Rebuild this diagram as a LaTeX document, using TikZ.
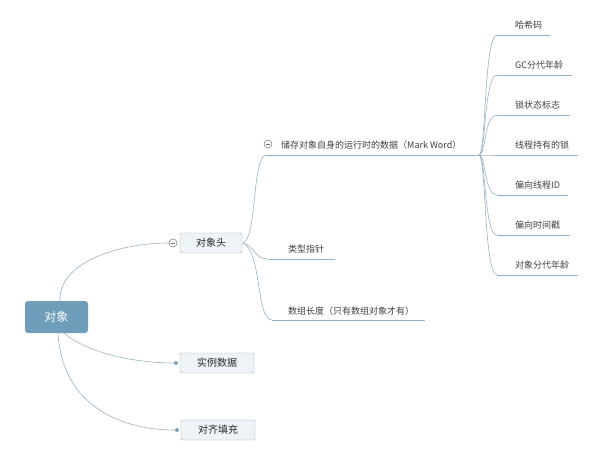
\documentclass[tikz,border=0pt]{standalone}
\usepackage{fontspec}
\newfontfamily\cjk{Noto Sans CJK SC}
\definecolor{rootc}{HTML}{6E9EBA}
\definecolor{boxf}{HTML}{EEF3F7}
\definecolor{boxd}{HTML}{9DB2BF}
\definecolor{linec}{HTML}{9AB3C2}
\definecolor{ulc}{HTML}{8DB3C6}
\definecolor{dotcol}{HTML}{7FA1B8}
\begin{document}
\begin{tikzpicture}[x=1pt,y=-1pt,
  font=\cjk\fontsize{9}{11}\selectfont,
  conn/.style={draw=linec, line width=0.6pt},
  ul/.style={draw=ulc, line width=0.7pt},
  rootbox/.style={rounded corners=3pt, fill=rootc, text=white, minimum width=63pt, minimum height=32pt, inner sep=0pt, font=\cjk\fontsize{12}{14}\selectfont},
  subbox/.style={rounded corners=1.5pt, draw=boxd, fill=boxf, minimum height=20pt, inner sep=0pt, font=\cjk\fontsize{10}{12}\selectfont, text=black!85},
  lbl/.style={anchor=west, inner sep=0pt, text=black!75},
  dotn/.style={circle, fill=dotcol, inner sep=0pt, minimum size=4pt},
  fold/.style={circle, draw=black!55, line width=0.5pt, inner sep=0pt, minimum size=8pt}]
\useasboundingbox (0,0) rectangle (606,458);
\fill[white] (0,0) rectangle (606,458);

% root and first level
\node[rootbox] (root) at (56.5,317) {对象};
\node[subbox, minimum width=62pt] (head) at (211,243) {对象头};
\node[subbox, minimum width=74pt] (inst) at (217,363) {实例数据};
\node[subbox, minimum width=74pt] (pad) at (218,430) {对齐填充};
\node[fold] (f1) at (173,243) {};
\draw[black!55, line width=0.5pt] ([xshift=1.8pt]f1.west) -- ([xshift=-1.8pt]f1.east);
\node[dotn] (d2) at (176,363) {};
\node[dotn] (d3) at (177,430) {};

\coordinate (rtop) at (60,301);
\coordinate (rb1) at (64,333);
\coordinate (rb2) at (58,333);
\draw[conn] (rtop) .. controls (58,262) and (120,243) .. (f1.west);
\draw[conn] (rb1) .. controls (90,355) and (140,363) .. (d2);
\draw[conn] (rb2) .. controls (62,405) and (120,430) .. (d3);

% second level
\node[fold] (f2) at (268,144) {};
\draw[black!55, line width=0.5pt] ([xshift=1.8pt]f2.west) -- ([xshift=-1.8pt]f2.east);
\node[lbl] (mw) at (281,145) {储存对象自身的运行时的数据（Mark Word）};
\coordinate (mwa) at (266,155);
\coordinate (mwb) at (479,155);
\draw[ul] (mwa) -- (mwb);

\node[lbl] (tp) at (288,249) {类型指针};
\coordinate (tpa) at (268,259);
\coordinate (tpb) at (335,259);
\draw[ul] (tpa) -- (tpb);

\node[lbl] (al) at (288,311) {数组长度（只有数组对象才有）};
\coordinate (ala) at (272,320);
\coordinate (alb) at (425,320);
\draw[ul] (ala) -- (alb);

\coordinate (hr) at (243,243);
\draw[conn] (hr) .. controls (257,238) and (252,157) .. (mwa);
\draw[conn] (hr) .. controls (255,246) and (254,259) .. (tpa);
\draw[conn] (hr) .. controls (262,252) and (256,320) .. (ala);

% third level
\foreach \n/\t/\y/\e in {l1/哈希码/25/550, l2/GC分代年龄/65/572, l3/锁状态标志/105/570, l4/线程持有的锁/145/578, l5/偏向线程ID/185/568, l6/偏向时间戳/225/570, l7/对象分代年龄/265/578}{
  \node[lbl] (\n) at (515,\y) {\t};
  \coordinate (\n a) at (497,\y+10);
  \coordinate (\n b) at (\e,\y+10);
  \draw[ul] (\n a) -- (\n b);
  \draw[conn] (mwb) .. controls (486,155) and (484,\y+10) .. (\n a);
}
\end{tikzpicture}
\end{document}
